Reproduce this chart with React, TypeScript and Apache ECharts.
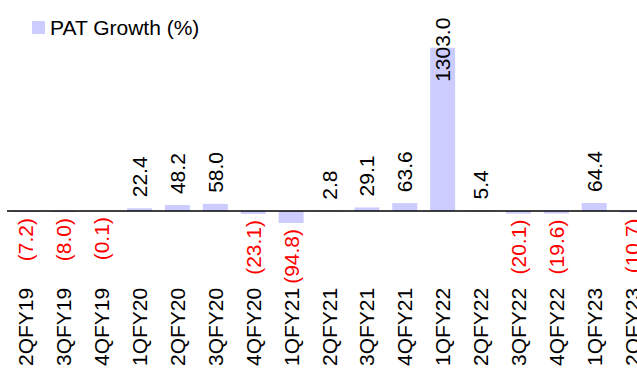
import React, { useEffect, useRef } from "react";
import * as echarts from "echarts";

const categories = [
  "2QFY19", "3QFY19", "4QFY19", "1QFY20", "2QFY20", "3QFY20", "4QFY20", "1QFY21",
  "2QFY21", "3QFY21", "4QFY21", "1QFY22", "2QFY22", "3QFY22", "4QFY22", "1QFY23", "2QFY23",
];
const patGrowth = [
  -7.2, -8.0, -0.1, 22.4, 48.2, 58.0, -23.1, -94.8,
  2.8, 29.1, 63.6, 1303.0, 5.4, -20.1, -19.6, 64.4, -10.7,
];
const seriesName = "PAT Growth (%)";

const FONT = "Liberation Sans";

export default function App() {
  const ref = useRef<HTMLDivElement>(null);
  useEffect(() => {
    if (!ref.current) return;
    const chart = echarts.init(ref.current, undefined, { renderer: "svg" });
    const maxVal = Math.max(...patGrowth);
    const data = patGrowth.map((v) => {
      if (v < 0) {
        return {
          value: v,
          label: {
            show: true,
            position: "bottom",
            distance: 6,
            rotate: 90,
            align: "right",
            verticalAlign: "middle",
            color: "#FF0000",
            formatter: () => `(${Math.abs(v).toFixed(1)})`,
          },
        };
      }
      if (v === maxVal) {
        return {
          value: v,
          label: {
            show: true,
            position: ["50%", 2],
            rotate: 90,
            align: "center",
            verticalAlign: "middle",
            color: "#000",
            formatter: () => v.toFixed(1),
          },
        };
      }
      return {
        value: v,
        label: {
          show: true,
          position: "top",
          distance: 11,
          rotate: 90,
          align: "left",
          verticalAlign: "middle",
          color: "#000",
          formatter: () => v.toFixed(1),
        },
      };
    });
    chart.setOption({
      animation: false,
      textStyle: { fontFamily: FONT },
      legend: {
        show: true,
        left: 27,
        top: 12,
        itemWidth: 13,
        itemHeight: 13,
        icon: "rect",
        textStyle: { fontFamily: FONT, fontSize: 21, color: "#000" },
        data: [seriesName],
      },
      grid: { left: 7, top: 0, width: 644, height: 280, containLabel: false },
      xAxis: {
        type: "category",
        data: categories,
        axisLine: { show: false, onZero: false },
        axisTick: { show: false },
        axisLabel: {
          interval: 0,
          rotate: 90,
          margin: 9,
          fontFamily: FONT,
          fontSize: 21,
          color: "#000",
        },
      },
      yAxis: {
        type: "value",
        min: -540,
        max: 1684,
        show: false,
        splitLine: { show: false },
      },
      series: [
        {
          name: seriesName,
          type: "bar",
          data,
          barCategoryGap: "34%",
          itemStyle: { color: "#CCCCFF" },
          label: { fontFamily: FONT, fontSize: 21 },
          markLine: {
            silent: true,
            symbol: "none",
            label: { show: false },
            lineStyle: { color: "#000", width: 1.5, type: "solid" },
            data: [{ yAxis: 0 }],
          },
        },
      ],
    });
    return () => chart.dispose();
  }, []);
  return (
    <div
      style={{
        position: "absolute",
        left: 0,
        top: 0,
        width: 637,
        height: 369,
        overflow: "hidden",
      }}
    >
      <div ref={ref} style={{ width: 670, height: 369 }} />
    </div>
  );
}
